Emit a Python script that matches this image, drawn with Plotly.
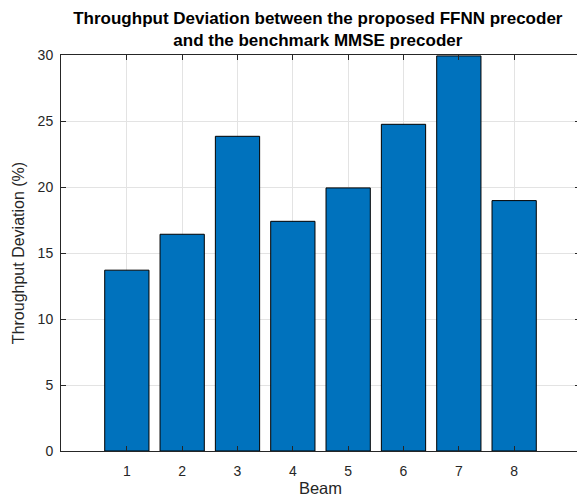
import plotly.graph_objects as go

beams = [1, 2, 3, 4, 5, 6, 7, 8]
deviation = [13.7, 16.42, 23.84, 17.4, 19.93, 24.75, 29.93, 18.97]
y_ticks = [0, 5, 10, 15, 20, 25, 30]

FONT = "Liberation Sans, Arial, Helvetica, sans-serif"

fig = go.Figure()
fig.add_trace(go.Bar(
    x=beams, y=deviation, width=0.8,
    marker=dict(color="#0072BD", line=dict(color="#000000", width=1)),
))

axis_common = dict(
    showline=True, linecolor="#262626", linewidth=1, mirror="allticks",
    ticks="inside", ticklen=5, tickcolor="#262626",
    showgrid=True, gridcolor="#e3e3e3", gridwidth=1, zeroline=False,
    tickfont=dict(family=FONT, size=14, color="#262626"),
    automargin=False,
)

# the page body has an 8px margin, so the figure is sized to fit the window
fig.update_layout(
    width=577, height=494,
    margin=dict(l=53, r=5, t=47, b=51),
    plot_bgcolor="white", paper_bgcolor="white",
    showlegend=False,
    title=dict(
        text="<b>Throughput Deviation between the proposed FFNN precoder<br>and the benchmark MMSE precoder</b>",
        x=0.537, xanchor="center", xref="container",
        y=1 - 16 / 494, yanchor="middle", yref="container",
        font=dict(family=FONT, size=17, color="#000000"),
    ),
    xaxis=dict(
        range=[-0.19, 9.19], tickvals=beams, ticktext=[str(b) for b in beams],
        ticklabelstandoff=7,
        title=dict(text="Beam", standoff=4,
                   font=dict(family=FONT, size=16.5, color="#262626")),
        **axis_common,
    ),
    yaxis=dict(
        range=[0, 30], tickvals=y_ticks, ticklabelstandoff=4,
        title=dict(text="Throughput Deviation (%)", standoff=9,
                   font=dict(family=FONT, size=16, color="#262626")),
        **axis_common,
    ),
)

fig.write_html("out.html")
